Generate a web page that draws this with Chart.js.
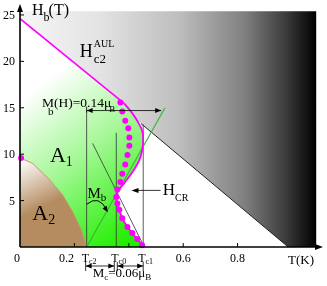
<!DOCTYPE html>
<html><head><meta charset="utf-8">
<script src="https://cdn.jsdelivr.net/npm/chart.js@4.4.0/dist/chart.umd.min.js"></script>
<style>html,body{margin:0;padding:0;background:#fff}</style>
</head><body>
<canvas id="c" width="327" height="286"></canvas>
<script>
// values: T in K, H in tesla
const dotT = [0.369,0.376,0.387,0.398,0.402,0.402,0.395,0.387,0.376,0.369,0.358,0.354,0.358,0.365,0.376,0.395,0.413,0.431,0.449];
const dotH = [15.56,14.6,13.6,12.8,11.8,10.9,9.9,8.9,7.9,7.0,6.2,5.4,4.7,4.0,3.1,2.15,1.5,0.86,0.2];
const curveT = [0.384,0.413,0.431,0.449,0.453,0.449,0.438,0.413,0.384,0.358,0.354,0.358,0.365,0.376,0.395,0.413,0.431,0.457];
const curveH = [15.45,14.4,13.6,12.55,11.5,10.4,9.3,8.05,6.9,5.9,5.4,4.7,4.0,3.1,2.15,1.5,0.86,0];
const a2T = [0,0.047,0.110,0.157,0.194,0.226,0.245];
const a2H = [9.6,9.0,7.2,5.6,3.76,1.82,0];
const hc2T = [0,0.384], hc2H = [24.6,15.45];
const hcrT = [0.445,0.986], hcrH = [13.3,0];
const greenT = [0.245,0.533], greenH = [0,15.0];
const thinT = [0.267,0.457], thinH = [11.16,0];
const grayT = [0,1.089,1.089,0.986,0.445,0.431,0.413,0.384,0];
const grayH = [25.4,25.4,0,0,13.3,13.65,14.4,15.45,24.6];
const tcNames = ['c2','c0','c1'];
const tcT = [0.245,0.354,0.453];
const tcTop = [14.7,12.3,13.2];
const xTicks = [0.2,0.4,0.6,0.8];
const xLabels = ['0.2','','0.6','0.8'];
const yTicks = [5,10,15,20,25];
const startDot = [0.004,9.6];

const pts = (xs, ys) => xs.map((v, i) => ({x: v, y: ys[i]}));
const SERIF = '"Liberation Serif", "DejaVu Serif", serif';

// green area: under the Hc2 line, left of the magenta curve
const greenArea = [{x: 0, y: hc2H[0]}].concat(pts(curveT, curveH), [{x: 0, y: 0}]);
const a2Area = pts(a2T, a2H).concat([{x: 0, y: 0}]);

function grayFill(ctx) {
  const ch = ctx.chart;
  if (!ch.chartArea) return '#ccc';
  const x = ch.scales.x;
  const g = ch.ctx.createLinearGradient(x.getPixelForValue(0), 0, x.getPixelForValue(1.089), 0);
  g.addColorStop(0, '#f6f6f6');
  g.addColorStop(0.27, '#e3e3e3');
  g.addColorStop(0.54, '#bdbdbd');
  g.addColorStop(0.76, '#7f7f7f');
  g.addColorStop(0.9, '#3a3a3a');
  g.addColorStop(1, '#000');
  return g;
}
function greenFill(ctx) {
  const ch = ctx.chart;
  if (!ch.chartArea) return '#0f0';
  const x = ch.scales.x, y = ch.scales.y;
  const g = ch.ctx.createLinearGradient(x.getPixelForValue(0), y.getPixelForValue(15.8),
                                        x.getPixelForValue(0.40), y.getPixelForValue(0.75));
  g.addColorStop(0, '#ffffff');
  g.addColorStop(0.45, '#a6f898');
  g.addColorStop(1, '#22ee00');
  return g;
}
function brownFill(ctx) {
  const ch = ctx.chart;
  if (!ch.chartArea) return '#b48c60';
  const x = ch.scales.x, y = ch.scales.y;
  const g = ch.ctx.createLinearGradient(x.getPixelForValue(0.007), y.getPixelForValue(9.4),
                                        x.getPixelForValue(0.09), y.getPixelForValue(4.4));
  g.addColorStop(0, '#ffffff');
  g.addColorStop(1, '#b48c60');
  return g;
}

function line(data, color, width, extra) {
  return Object.assign({data: data, borderColor: color, borderWidth: width, pointRadius: 0,
    fill: false, tension: 0}, extra || {});
}

const deco = {
  id: 'deco',
  afterDatasetsDraw(chart) {
    const c = chart.ctx, x = chart.scales.x, y = chart.scales.y, area = chart.chartArea;
    const px = v => x.getPixelForValue(v), py = v => y.getPixelForValue(v);
    const x0 = px(0), y0 = py(0);
    c.save();
    c.fillStyle = '#000'; c.strokeStyle = '#000';

    function txt(s, tx, ty, size, align) {
      c.font = size + 'px ' + SERIF;
      c.textAlign = align || 'left';
      c.textBaseline = 'alphabetic';
      c.fillText(s, tx, ty);
      return c.measureText(s).width;
    }
    function head(tx, ty, ang, len, wid) {
      c.save(); c.translate(tx, ty); c.rotate(ang);
      c.beginPath(); c.moveTo(0, 0); c.lineTo(-len, -wid); c.lineTo(-len, wid); c.closePath(); c.fill();
      c.restore();
    }
    function dblArrow(xa, xb, yy, bars) {
      c.lineWidth = 0.8;
      c.beginPath(); c.moveTo(xa, yy); c.lineTo(xb, yy); c.stroke();
      head(xa, yy, Math.PI, 6, 2.5); head(xb, yy, 0, 6, 2.5);
      if (bars) {
        c.beginPath();
        c.moveTo(xa, yy - 4); c.lineTo(xa, yy + 5);
        c.moveTo(xb, yy - 4); c.lineTo(xb, yy + 5);
        c.stroke();
      }
    }

    // axes
    c.lineWidth = 1.6;
    c.beginPath(); c.moveTo(x0, y0); c.lineTo(x0, area.top + 6); c.stroke();
    head(x0, area.top, -Math.PI / 2, 8, 3);
    c.beginPath(); c.moveTo(x0, y0); c.lineTo(area.right - 6, y0); c.stroke();
    head(area.right, y0, 0, 8, 3);

    c.lineWidth = 1;
    yTicks.forEach(v => {
      c.beginPath(); c.moveTo(x0, py(v)); c.lineTo(x0 + 4, py(v)); c.stroke();
      txt(String(v), x0 - 5, py(v) + 4, 12, 'right');
    });
    xTicks.forEach((v, i) => {
      c.beginPath(); c.moveTo(px(v), y0); c.lineTo(px(v), y0 - 4); c.stroke();
      if (xLabels[i]) txt(xLabels[i], px(v) - (i === 0 ? 8 : 0), y0 + 15, 12, 'center');
    });
    txt('0', x0 - 3, y0 + 15, 12, 'center');
    tcT.forEach((v, i) => {
      const w = txt('T', px(v) - 5, y0 + 15, 12);
      txt(tcNames[i], px(v) - 5 + w, y0 + 17, 8);
    });
    txt('T(K)', area.right - 35, y0 + 17, 13);

    // axis title
    let w = txt('H', x0 + 12, y0 - 232, 16);
    txt('b', x0 + 12 + w, y0 - 226, 12);
    txt('(T)', x0 + 12 + w + 5, y0 - 232, 16);

    // region labels
    w = txt('H', px(0.22), py(20.5), 18);
    txt('c2', px(0.22) + w + 1, py(19.8), 13);
    txt('AUL', px(0.22) + w + 1, py(21.6), 10);
    w = txt('A', px(0.11), py(9.2), 22);
    txt('1', px(0.11) + w, py(9.2) + 4, 14);
    w = txt('A', px(0.045), py(2.9), 22);
    txt('2', px(0.045) + w, py(2.9) + 4, 14);

    // M(H) label and arrow
    w = txt('M', x0 + 22, py(15.1), 13.5);
    txt('b', x0 + 22 + w - 6, py(15.1) + 8, 11);
    w += txt('(H)=0.14\u03bc', x0 + 22 + w, py(15.1), 13.5);
    txt('B', x0 + 22 + w - 2, py(15.1) + 5, 9);
    dblArrow(px(tcT[0]), px(0.519), py(14.7), false);
    c.lineWidth = 0.8;
    c.beginPath(); c.moveTo(px(tcT[0]), py(14.7) - 4); c.lineTo(px(tcT[0]), py(14.7) + 2); c.stroke();

    // Mc arrows below the axis
    const ya = y0 + 19;
    dblArrow(px(tcT[0]) - 1, px(tcT[1]) - 2, ya, true);
    dblArrow(px(tcT[1]) + 1, px(tcT[2]), ya, true);
    w = txt('M', px(tcT[0]) + 6, y0 + 30, 13);
    txt('c', px(tcT[0]) + 6 + w, y0 + 33, 9);
    w += 4 + txt('=0.06\u03bc', px(tcT[0]) + 10 + w, y0 + 30, 13);
    txt('B', px(tcT[0]) + 6 + w, y0 + 33, 9);

    // Mb curved arrow
    c.lineWidth = 1;
    c.beginPath();
    c.moveTo(px(0.245), py(4.6));
    c.quadraticCurveTo(px(0.29), py(5.7), px(0.32), py(3.95));
    c.stroke();
    head(px(0.323), py(3.75), 1.0, 6, 2.5);
    w = txt('M', px(0.248), py(5.3), 15);
    txt('b', px(0.248) + w, py(5.0), 11);

    // H_CR arrow
    c.lineWidth = 0.8;
    c.beginPath(); c.moveTo(px(0.517), py(6.1)); c.lineTo(px(0.42), py(6.1)); c.stroke();
    head(px(0.41), py(6.1), Math.PI, 7, 2.5);
    w = txt('H', px(0.525), py(5.6), 17);
    txt('CR', px(0.525) + w, py(5.0), 10);

    c.restore();
  }
};

// listed front to back: Chart.js paints the first dataset on top
new Chart(document.getElementById('c'), {
  type: 'line',
  data: {
    datasets: [
      {type: 'scatter', data: pts(dotT, dotH).concat([{x: startDot[0], y: startDot[1]}]),
        pointRadius: 3, pointBackgroundColor: '#ff00ff', pointBorderWidth: 0, showLine: false, clip: false},
      line(pts(curveT, curveH), '#ff00ff', 1.8, {tension: 0.35}),
      line(pts(hc2T, hc2H), '#ff00ff', 1.6),
      line(pts(greenT, greenH), '#33bb33', 1.2),
      line(pts([tcT[0], tcT[0]], [0, tcTop[0]]), '#333', 0.8),
      line(pts([tcT[1], tcT[1]], [0, tcTop[1]]), '#333', 0.8),
      line(pts([tcT[2], tcT[2]], [0, tcTop[2]]), '#333', 0.8),
      line(pts(thinT, thinH), '#333', 0.8),
      line(pts(hcrT, hcrH), '#222', 1),
      line(a2Area, '#c39a6c', 1, {fill: 'shape', backgroundColor: brownFill}),
      line(greenArea, 'rgba(0,0,0,0)', 0, {fill: 'shape', backgroundColor: greenFill}),
      line(pts(grayT, grayH), 'rgba(0,0,0,0)', 0, {fill: 'shape', backgroundColor: grayFill})
    ]
  },
  options: {
    responsive: false,
    animation: false,
    devicePixelRatio: 1,
    layout: {padding: {left: 20, right: 2, top: 3, bottom: 39}},
    plugins: {legend: {display: false}, tooltip: {enabled: false}},
    scales: {
      x: {type: 'linear', min: 0, max: 1.114, display: false},
      y: {type: 'linear', min: 0, max: 26.18, display: false}
    }
  },
  plugins: [deco]
});
</script>
</body></html>
